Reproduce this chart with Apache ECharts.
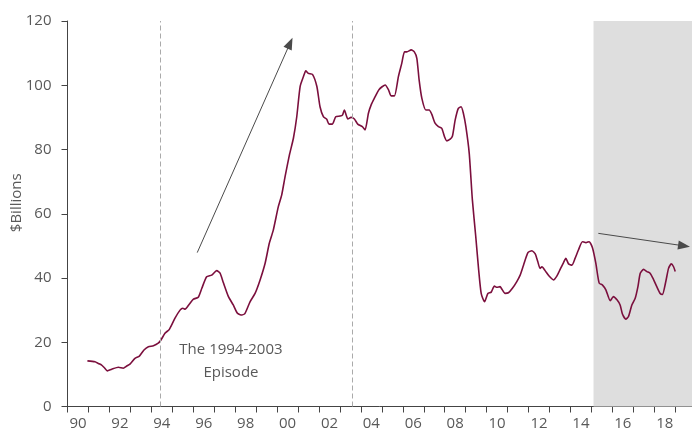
<!DOCTYPE html>
<html>
<head>
<meta charset="utf-8">
<script src="https://cdn.jsdelivr.net/npm/echarts@6/dist/echarts.min.js"></script>
<style>
  html, body { margin: 0; padding: 0; background: #fff; }
  #chart { width: 692px; height: 433px; }
</style>
</head>
<body>
<div id="chart"></div>
<script>
// decimal years and $billions
var years = [
  1990.95, 1991.31, 1991.47, 1991.63, 1991.74, 1991.90, 1992.11, 1992.43, 1992.66, 1992.83,
  1992.98, 1993.22, 1993.43, 1993.65, 1993.86, 1994.10, 1994.33, 1994.46, 1994.65, 1994.86,
  1995.13, 1995.37, 1995.50, 1995.61, 1995.81, 1996.01, 1996.24, 1996.41, 1996.64, 1996.88,
  1997.12, 1997.28, 1997.44, 1997.68, 1997.91, 1998.11, 1998.32, 1998.47, 1998.71, 1998.95,
  1999.19, 1999.43, 1999.63, 1999.82, 2000.06, 2000.22, 2000.38, 2000.59, 2000.78, 2000.94,
  2001.10, 2001.26, 2001.37, 2001.49, 2001.69, 2001.90, 2002.05, 2002.21, 2002.37, 2002.48,
  2002.64, 2002.80, 2003.01, 2003.12, 2003.21, 2003.38, 2003.53, 2003.69, 2003.85, 2004.07,
  2004.20, 2004.36, 2004.49, 2004.64, 2004.87, 2005.16, 2005.31, 2005.44, 2005.60, 2005.79,
  2005.95, 2006.08, 2006.19, 2006.40, 2006.55, 2006.67, 2006.78, 2006.91, 2007.10, 2007.26,
  2007.38, 2007.54, 2007.70, 2007.86, 2007.99, 2008.10, 2008.26, 2008.37, 2008.50, 2008.65,
  2008.78, 2008.89, 2009.01, 2009.17, 2009.32, 2009.48, 2009.62, 2009.74, 2009.90, 2010.06,
  2010.22, 2010.37, 2010.49, 2010.64, 2010.73, 2010.88, 2011.04, 2011.23, 2011.44, 2011.60,
  2011.76, 2011.97, 2012.16, 2012.32, 2012.44, 2012.55, 2012.64, 2012.79, 2012.98, 2013.19,
  2013.35, 2013.51, 2013.67, 2013.78, 2013.91, 2014.07, 2014.22, 2014.38, 2014.57, 2014.74,
  2014.89, 2015.05, 2015.21, 2015.37, 2015.53, 2015.69, 2015.90, 2016.05, 2016.22, 2016.37,
  2016.48, 2016.64, 2016.77, 2016.93, 2017.09, 2017.22, 2017.33, 2017.49, 2017.65, 2017.80,
  2017.96, 2018.12, 2018.28, 2018.39, 2018.55, 2018.68, 2018.81, 2018.92, 2019.00
];
var billions = [
  14.2, 13.9, 13.4, 12.9, 12.2, 11.1, 11.6, 12.2, 11.9, 12.6,
  13.2, 15.0, 15.7, 17.6, 18.6, 18.9, 19.7, 20.7, 22.8, 24.0,
  27.5, 30.0, 30.6, 30.3, 31.8, 33.4, 34.0, 36.8, 40.4, 40.9,
  42.3, 41.5, 38.5, 34.2, 31.6, 29.0, 28.5, 29.0, 32.6, 35.2,
  39.4, 44.6, 50.8, 54.9, 62.2, 65.8, 71.5, 78.3, 83.5, 90.2,
  99.6, 102.7, 104.5, 103.7, 103.4, 99.6, 93.3, 90.2, 89.4, 87.9,
  87.9, 90.2, 90.4, 90.7, 92.3, 89.5, 90.0, 89.5, 87.9, 87.1,
  86.1, 91.3, 93.9, 95.9, 98.7, 100.1, 98.7, 96.7, 96.7, 102.7,
  106.8, 110.4, 110.4, 111.0, 110.4, 108.4, 101.6, 95.9, 92.3, 92.3,
  91.0, 88.2, 87.1, 86.6, 84.0, 82.7, 83.2, 84.2, 89.2, 92.8,
  93.3, 91.3, 87.1, 78.8, 64.3, 53.0, 42.5, 35.2, 32.6, 35.2,
  35.6, 37.5, 37.1, 37.3, 36.5, 35.2, 35.4, 36.8, 38.9, 40.9,
  44.0, 47.9, 48.5, 47.5, 45.1, 43.0, 43.5, 42.3, 40.6, 39.4,
  40.6, 42.7, 44.8, 46.1, 44.4, 44.0, 46.1, 48.7, 51.3, 51.0,
  51.3, 49.4, 44.6, 38.4, 37.8, 36.3, 32.9, 34.2, 33.2, 31.6,
  28.8, 27.2, 28.0, 31.6, 33.7, 37.3, 41.5, 42.7, 42.0, 41.5,
  39.6, 37.3, 35.2, 34.9, 38.9, 43.0, 44.4, 43.5, 42.0
];

// ticks at every year start, labels in the middle of even years
var tickYears = [];
for (var y = 1990; y <= 2019; y++) tickYears.push(y);
var labelYears = [];
for (var y = 1990; y <= 2018; y += 2) labelYears.push(y + 0.5);

var episodeLines = [1994.42, 2003.6];
var shadeFrom = 2015.1;
var upArrow = [[1996.19, 47.9], [2000.62, 113.1]];
var downArrow = [[2015.33, 53.9], [2019.42, 50.0]];
var episodeText = 'The 1994-2003\nEpisode';
var episodeAt = [1997.8, 14.0];

var pts = years.map(function (d, i) { return [d, billions[i]]; });

var axisColor = '#444';
var textColor = '#595959';
var font = '"Open Sans", sans-serif';

var chart = echarts.init(document.getElementById('chart'));
chart.setOption({
  animation: false,
  textStyle: { fontFamily: font },
  grid: { left: 67.5, right: 0, top: 21, bottom: 26.5, containLabel: false, outerBoundsMode: 'none' },
  xAxis: {
    type: 'value',
    min: 1990,
    max: 2019.8,
    axisLine: { lineStyle: { color: axisColor, width: 1 } },
    axisTick: { show: true, length: 6, customValues: tickYears, lineStyle: { color: axisColor } },
    splitLine: { show: false },
    axisLabel: {
      customValues: labelYears,
      color: textColor,
      fontSize: 15,
      fontFamily: font,
      margin: 10,
      formatter: function (v) {
        var n = Math.floor(v) % 100;
        return (n < 10 ? '0' : '') + n;
      }
    }
  },
  yAxis: {
    type: 'value',
    min: 0,
    max: 120,
    interval: 20,
    name: '$Billions',
    nameLocation: 'middle',
    nameGap: 43,
    nameMoveOverlap: false,
    nameTextStyle: { color: textColor, fontSize: 15, fontFamily: font, padding: [0, 0, 0, 22] },
    axisLine: { show: true, lineStyle: { color: axisColor, width: 1 } },
    axisTick: { show: true, length: 6, lineStyle: { color: axisColor } },
    splitLine: { show: false },
    axisLabel: { color: textColor, fontSize: 15, fontFamily: font, margin: 16 }
  },
  series: [
    {
      // shaded recent period
      type: 'line',
      data: [],
      z: 1,
      markArea: {
        silent: true,
        itemStyle: { color: '#dedede' },
        data: [[{ xAxis: shadeFrom }, { xAxis: 2019.8 }]]
      },
      markLine: {
        silent: true,
        symbol: 'none',
        label: { show: false },
        lineStyle: { color: '#aaa', width: 1, type: [5, 3] },
        data: episodeLines.map(function (x) { return { xAxis: x }; })
      }
    },
    {
      type: 'line',
      data: pts,
      z: 3,
      showSymbol: false,
      smooth: 0.2,
      lineStyle: { color: '#7b0f3d', width: 1.6 },
      markLine: {
        silent: true,
        symbol: ['none', 'triangle'],
        symbolSize: [9, 12],
        label: { show: false },
        lineStyle: { color: '#4a4a4a', width: 1, type: 'solid' },
        data: [
          [{ coord: upArrow[0] }, { coord: upArrow[1] }],
          [{ coord: downArrow[0] }, { coord: downArrow[1] }]
        ]
      },
      markPoint: {
        silent: true,
        symbol: 'circle',
        symbolSize: 0,
        label: {
          show: true,
          position: 'inside',
          formatter: episodeText,
          color: textColor,
          fontSize: 15,
          fontFamily: font,
          lineHeight: 23,
          align: 'center'
        },
        data: [{ coord: episodeAt }]
      }
    }
  ]
});
</script>
</body>
</html>
